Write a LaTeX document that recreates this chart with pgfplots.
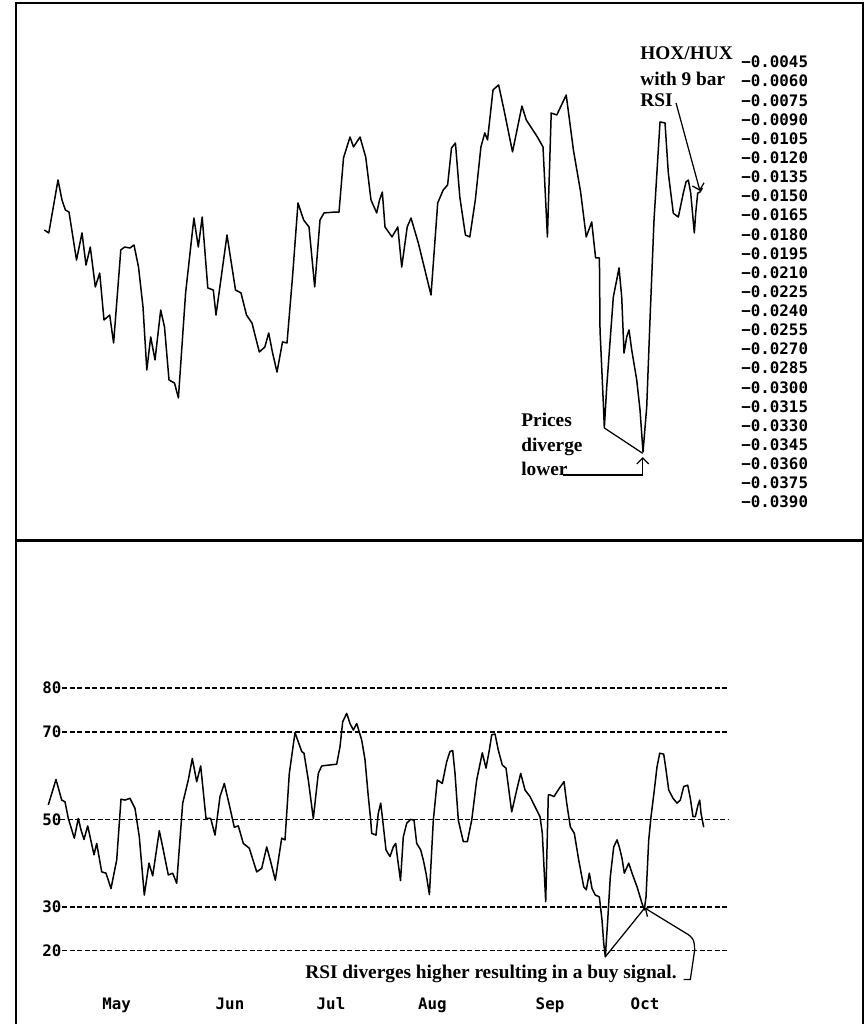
\documentclass[border=0pt]{standalone}
\usepackage{pgfplots}
\pgfplotsset{compat=1.18}
\usepackage{fontspec}
\usetikzlibrary{arrows.meta}
\setmainfont{Liberation Serif}
\newfontfamily\mono{DejaVu Sans Mono}

\begin{document}
\begin{tikzpicture}[x=1mm,y=1mm]
\useasboundingbox (-3.2,0) rectangle (170.2,204.8);

\pgfplotsset{
  panel/.style={
    scale only axis, width=169.4mm, xmin=16, xmax=863,
    axis line style={draw=none}, tick style={draw=none},
    clip=false, anchor=south west,
    ticklabel style={font=\mono\bfseries\fontsize{9}{10}\selectfont, inner sep=0pt},
  },
  series/.style={black, line width=0.3mm, line join=round},
  grid line/.style={black, line width=0.3mm, dash pattern=on 1mm off 0.5mm},
}

% ---- upper panel: HOX/HUX spread
\begin{axis}[panel,
  at={(0,96.6mm)}, height=107.6mm,
  ymin=-0.042039, ymax=0.000124,
  xtick=\empty,
  yticklabel pos=right,
  ytick={-0.0045,-0.006,-0.0075,-0.009,-0.0105,-0.012,-0.0135,-0.015,-0.0165,-0.018,-0.0195,-0.021,
         -0.0225,-0.024,-0.0255,-0.027,-0.0285,-0.03,-0.0315,-0.033,-0.0345,-0.036,-0.0375,-0.039},
  yticklabels={−0.0045,−0.0060,−0.0075,−0.0090,−0.0105,−0.0120,−0.0135,−0.0150,−0.0165,−0.0180,−0.0195,−0.0210,
         −0.0225,−0.0240,−0.0255,−0.0270,−0.0285,−0.0300,−0.0315,−0.0330,−0.0345,−0.0360,−0.0375,−0.0390},
  yticklabel style={anchor=west},
  yticklabel shift=-24.4mm,
]
\addplot[series] coordinates {
(44.3,-0.01767) (48.8,-0.01790) (58,-0.01375) (62,-0.01532) (65.4,-0.01610) (69,-0.01626)
(76.5,-0.02002) (82,-0.01790) (86,-0.02041) (90.3,-0.01900) (95.3,-0.02213) (99.7,-0.02104)
(104,-0.02472) (109.7,-0.02433) (113.6,-0.02652) (120.8,-0.01923) (124.7,-0.01900) (130,-0.01908)
(134,-0.01884) (138.5,-0.02057) (143,-0.02370) (146.8,-0.02864) (150.7,-0.02605) (155,-0.02785)
(160.7,-0.02394) (164.5,-0.02527) (169,-0.02942) (174.5,-0.02966) (178.4,-0.03083) (185.6,-0.02260)
(193.9,-0.01673) (198.3,-0.01900) (202.2,-0.01665) (207.8,-0.02221) (213.3,-0.02237) (216,-0.02433)
(227,-0.01806) (235.5,-0.02237) (241,-0.02260) (246.5,-0.02433) (252,-0.02496) (259.3,-0.02723)
(264.8,-0.02684) (268.7,-0.02574) (272.6,-0.02731) (277,-0.02880) (282.5,-0.02644) (287,-0.02652)
(292.5,-0.02135) (298,-0.01555) (303.6,-0.01688) (309,-0.01743) (314.7,-0.02213) (320,-0.01688)
(324,-0.01633) (335,-0.01626) (339,-0.01626) (343.5,-0.01202) (350,-0.01038) (353.5,-0.01116)
(360,-0.01038) (365.7,-0.01195) (371,-0.01532) (376.7,-0.01633) (379.5,-0.01532) (382.3,-0.01469)
(385,-0.01743) (392,-0.01821) (397.8,-0.01743) (401.7,-0.02057) (407.2,-0.01743) (411,-0.01673)
(418.3,-0.01868) (431,-0.02276) (437.7,-0.01555) (443.2,-0.01453) (447.6,-0.01414) (451.5,-0.01124)
(455.4,-0.01085) (459.8,-0.01508) (465.4,-0.01806) (469.8,-0.01821) (475.3,-0.01532) (480.9,-0.01116)
(484.8,-0.01006) (487.5,-0.01061) (493,-0.00669) (498.6,-0.00630) (504,-0.00826) (512.5,-0.01155)
(521.9,-0.00795) (526.3,-0.00905) (537.4,-0.01038) (543,-0.01116) (547.4,-0.01821) (551.2,-0.00850)
(556.8,-0.00865) (566.2,-0.00709) (573.4,-0.01140) (580.6,-0.01469) (586.2,-0.01821) (591.7,-0.01704)
(595.6,-0.01986) (599.4,-0.01986) (600,-0.02550) (603.3,-0.03122) (604.3,-0.03318) (606.7,-0.02997)
(613.3,-0.02292) (616.7,-0.02158) (619,-0.02064) (621.7,-0.02292) (624,-0.02731) (626.7,-0.02605)
(629,-0.02550) (631.7,-0.02707) (636.7,-0.02942) (640,-0.03177) (643,-0.03506) (646.7,-0.03154)
(650,-0.02467) (654,-0.01688) (660,-0.00920) (665,-0.00928) (668.3,-0.01320) (673.3,-0.01636)
(678.3,-0.01665) (683.3,-0.01477) (686,-0.01390) (688.3,-0.01375) (690.7,-0.01477) (694.3,-0.01790)
(695.7,-0.01633) (697.7,-0.01477) (700,-0.01469) (702.3,-0.01437)
};
% frame and divider
\draw[line width=0.5mm] (rel axis cs:0,0) -- (rel axis cs:0,1) -- (rel axis cs:1,1) -- (rel axis cs:1,0);
\draw[line width=0.6mm] (rel axis cs:0,0) -- (rel axis cs:1,0);
% notes
\begin{scope}[font=\bfseries\fontsize{11}{12}\selectfont]
\node[anchor=west, inner sep=0pt] at (axis cs:640,-0.003795) {HOX/HUX};
\node[anchor=west, inner sep=0pt] at (axis cs:640,-0.005832) {with 9 bar};
\node[anchor=west, inner sep=0pt] at (axis cs:640,-0.007478) {RSI};
\node[anchor=west, inner sep=0pt] at (axis cs:521,-0.03256) {Prices};
\node[anchor=west, inner sep=0pt] at (axis cs:521,-0.03465) {diverge};
\node[anchor=west, inner sep=0pt] at (axis cs:521,-0.03640) {lower};
\end{scope}
\draw[line width=0.25mm, -{Straight Barb[length=1.2mm]}] (axis cs:676,-0.00771) -- (axis cs:700,-0.01461);
\draw[line width=0.25mm] (axis cs:604.3,-0.03318) -- (axis cs:642.7,-0.03517);
\draw[line width=0.25mm, -{Straight Barb[length=1.2mm]}] (axis cs:563.3,-0.03687) -- (axis cs:642.7,-0.03687) -- (axis cs:642.7,-0.03546);
\end{axis}

% ---- lower panel: 9 bar RSI
\begin{axis}[panel,
  at={(0,0)}, height=96.6mm,
  ymin=3.25, ymax=113.58,
  xtick={116.7,230,331,432.3,550,645},
  xticklabels={May,Jun,Jul,Aug,Sep,Oct},
  xticklabel style={anchor=center, text height=1.8ex, text depth=0.5ex},
  xticklabel shift=-4.0mm,
  ytick={20,30,50,70,80},
  yticklabels={20,30,50,70,80},
  yticklabel style={anchor=west},
  yticklabel shift=-5.2mm,
]
\addplot[grid line] coordinates {(62,80) (729,80)};
\addplot[grid line] coordinates {(62,70) (729,70)};
\addplot[grid line] coordinates {(60,50) (729,50)};
\addplot[grid line] coordinates {(62,30) (729,30)};
\addplot[grid line] coordinates {(62,20) (729,20)};
\addplot[series] coordinates {
(48.3,53.3) (56,59.1) (61.7,54.4) (65,54.0) (68.3,50.2) (74.3,45.7) (78.3,50.2) (81,47.6) (84,45.4)
(87.7,48.5) (94,41.9) (96.7,44.5) (101.7,38.0) (106,37.7) (111,34.2) (116.7,40.7) (121,54.6)
(125,54.4) (130,54.8) (135,52.5) (139.3,46.0) (144.3,32.7) (149,40.0) (152.7,37.1) (159.3,47.4)
(163.3,43.0) (168.3,37.3) (172.7,37.7) (176.7,35.4) (182.7,53.7) (188.3,59.0) (192.3,63.9)
(196.7,58.6) (200.7,62.2) (206,50.2) (210.7,50.2) (215,46.4) (220,55.2) (224.3,58.2) (229.3,53.3)
(234.3,48.2) (238.3,48.5) (243.3,44.5) (249.3,43.4) (256.7,38.0) (261.7,38.8) (266.7,43.7)
(270.7,40.3) (275.3,36.1) (281.7,45.7) (285,45.3) (289.3,60.5) (295,69.8) (301.7,65.5) (304,65.1)
(308.3,59.0) (313.3,50.2) (318.3,60.5) (321.7,62.2) (336.7,62.6) (340,66.6) (342.7,72.3)
(346.7,74.2) (350,71.9) (353.3,70.4) (356.7,71.9) (361.7,68.1) (365,63.6) (368.3,55.2) (370.7,49.8)
(371.7,46.8) (376,46.4) (378.3,51.4) (380.7,53.7) (382.7,49.8) (386,43.0) (390,41.5) (393.3,43.7)
(395.7,44.5) (397.3,41.5) (400.5,36.0) (403.3,46.0) (406.7,49.1) (410.7,50.0) (414,49.8)
(416.7,44.5) (420.7,43.0) (423.3,40.7) (426,37.7) (429.4,32.8) (431.5,42.0) (433.3,49.8)
(437.3,59.0) (442.3,58.2) (446.7,63.2) (450,65.5) (452.7,65.7) (455,60.5) (458.3,49.8) (463.3,44.9)
(467.3,44.9) (471.7,49.8) (476.7,59.0) (482.3,65.2) (486,61.7) (489.3,65.8) (491.7,69.3) (495,69.5)
(498.3,65.8) (502.3,62.4) (506,61.7) (511.7,51.7) (516.7,56.7) (520.7,60.5) (525,56.7) (530,55.2)
(535,52.9) (540,50.6) (542.3,46.8) (545.7,31.2) (548.3,55.6) (550,55.6) (554,55.2) (559.3,57.1)
(564,58.6) (566.7,53.7) (570.3,48.3) (574.3,46.8) (578.7,40.7) (583.7,34.6) (586.3,33.9)
(589.3,37.7) (592,34.2) (595.3,32.7) (599.3,32.3) (602,27.0) (603.7,21.7) (605.3,18.6) (607.7,27.0)
(610.3,36.9) (613.7,43.7) (617,45.3) (619.3,43.7) (622,41.1) (624.3,37.7) (628.7,40.0) (632,37.7)
(637,34.6) (642,30.8) (644.3,29.3) (646,32.3) (648.7,45.3) (651,50.6) (654.3,56.7) (657,62.0)
(659.7,65.1) (663.7,64.9) (666,61.3) (668.7,56.7) (673,54.8) (677,53.7) (680.3,54.4) (683.7,57.5)
(687.7,57.8) (690.3,54.8) (693,50.6) (695.3,50.6) (698,53.3) (699.7,54.4) (701,51.4) (703.7,48.2)
};
% side frame
\draw[line width=0.5mm] (rel axis cs:0,0) -- (rel axis cs:0,1);
\draw[line width=0.5mm] (rel axis cs:1,0) -- (rel axis cs:1,1);
% note
\node[anchor=west, inner sep=0pt, font=\bfseries\fontsize{11}{12}\selectfont] at (axis cs:305,14.6) {RSI diverges higher resulting in a buy signal.};
\draw[line width=0.25mm] (axis cs:605.3,18.6) -- (axis cs:644.7,29.75);
\draw[line width=0.25mm, -{Straight Barb[length=1.2mm]}] (axis cs:683.7,13.4) -- (axis cs:690.3,13.4)
  -- (axis cs:694.7,20.2) .. controls (axis cs:694,22.5) .. (axis cs:688.7,23.6) -- (axis cs:644.7,29.75);
\end{axis}
\end{tikzpicture}
\end{document}
